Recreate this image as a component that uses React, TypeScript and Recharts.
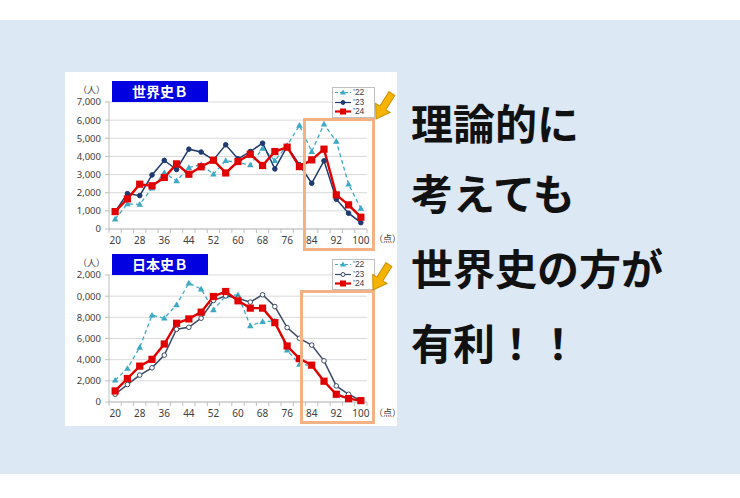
import React from "react";
import { LineChart, Line, XAxis, YAxis, CartesianGrid, Legend } from "recharts";

// 得点 (点) の区切り
const scores = [20, 24, 28, 32, 36, 40, 44, 48, 52, 56, 60, 64, 68, 72, 76, 80, 84, 88, 92, 96, 100];
const labelTicks = [20, 28, 36, 44, 52, 60, 68, 76, 84, 92, 100];
const boundaryTicks = [18, 22, 26, 30, 34, 38, 42, 46, 50, 54, 58, 62, 66, 70, 74, 78, 82, 86, 90, 94, 98, 102];

// 世界史B (人)
const world22 = [550, 1380, 1360, 2250, 3110, 2650, 3390, 3550, 3020, 3770, 3660, 3530, 4450, 3770, 4600, 5710, 4270, 5780, 4830, 2470, 1140];
const world23 = [960, 1950, 1840, 2980, 3780, 3280, 4400, 4240, 3810, 4640, 3870, 4270, 4730, 3310, 4550, 3540, 2520, 3760, 1640, 870, 350];
const world24 = [960, 1660, 2470, 2380, 2840, 3590, 3020, 3430, 3790, 3090, 3720, 4120, 3500, 4270, 4510, 3440, 3810, 4400, 1880, 1330, 650];
const worldTicks = [0, 1000, 2000, 3000, 4000, 5000, 6000, 7000];

// 日本史B (人)
const japan22 = [2060, 3170, 5160, 8200, 7920, 9180, 11240, 10670, 8710, 10030, 10130, 7190, 7600, 7650, 4910, 3550, 3450, 1950, 750, 300, 120];
const japan23 = [730, 1650, 2540, 3230, 4430, 6870, 7060, 7920, 9590, 10030, 9810, 9440, 10130, 9020, 7030, 6020, 5380, 3890, 1520, 730, 130];
const japan24 = [1045, 2220, 3390, 4030, 5480, 7440, 7850, 8490, 9970, 10440, 9560, 8870, 8870, 7500, 5290, 4100, 3480, 1965, 730, 320, 130];
const japanTicks = [0, 2000, 4000, 6000, 8000, 10000, 12000];

const messageLines = ["理論的に", "考えても", "世界史の方が", "有利！！"];

const TEAL = "#3fa9c4";
const RED = "#e00000";
const GRID = "#d9d9d9";
const AXIS = "#bfbfbf";
const FONT = '"Noto Sans CJK JP", "Noto Sans", sans-serif';
const NUM_FONT = '"Noto Sans", sans-serif';

const worldData = scores.map((s, i) => ({ x: s, y22: world22[i], y23: world23[i], y24: world24[i] }));
const japanData = scores.map((s, i) => ({ x: s, y22: japan22[i], y23: japan23[i], y24: japan24[i] }));

const triDot = (p: any) => {
  const { cx, cy, index } = p;
  return <path key={`t${index}`} d={`M${cx},${cy - 3.3}L${cx + 3.3},${cy + 2.4}L${cx - 3.3},${cy + 2.4}Z`} fill={TEAL} />;
};
const circleDot = (color: string, hollow: boolean) => (p: any) => {
  const { cx, cy, index } = p;
  return <circle key={`c${index}`} cx={cx} cy={cy} r={2.3} fill={hollow ? "#fff" : color} stroke={color} strokeWidth={1} />;
};
const squareDot = (p: any) => {
  const { cx, cy, index } = p;
  return <rect key={`s${index}`} x={cx - 3.6} y={cy - 3.6} width={7.2} height={7.2} fill={RED} />;
};

function ScoreTick({ x, y, payload }: any) {
  const v = payload.value;
  return (
    <g>
      {boundaryTicks.includes(v) && <line x1={x} x2={x} y1={y} y2={y + 4} stroke={AXIS} />}
      {labelTicks.includes(v) && (
        <text x={x} y={y + 11} textAnchor="middle" dominantBaseline="central" fontSize={10} fill="#404040" fontFamily={NUM_FONT}>
          {v}
        </text>
      )}
    </g>
  );
}

function LegendBox({ navy, hollow }: { navy: string; hollow: boolean }) {
  const rows = [
    { name: "’22", color: TEAL, dash: "3 2", mark: "tri" },
    { name: "’23", color: navy, dash: undefined, mark: "circle" },
    { name: "’24", color: RED, dash: undefined, mark: "square" },
  ];
  return (
    <div style={{ width: 38, border: `1px solid ${AXIS}`, background: "#fff", padding: "0 2px 0 1px", fontFamily: '"Liberation Sans", Arial, sans-serif', fontSize: 8.5, color: "#404040" }}>
      {rows.map((r) => (
        <div key={r.name} style={{ display: "flex", alignItems: "center", height: 9.6, lineHeight: "9.6px" }}>
          <svg width={18} height={9} style={{ flex: "none" }}>
            <line x1={1} x2={17} y1={4.5} y2={4.5} stroke={r.color} strokeWidth={r.mark === "square" ? 2.2 : 1.2} strokeDasharray={r.dash} />
            {r.mark === "tri" && <path d="M9,1.5L12,6.5L6,6.5Z" fill={r.color} />}
            {r.mark === "circle" && <circle cx={9} cy={4.5} r={2} fill={hollow ? "#fff" : r.color} stroke={r.color} />}
            {r.mark === "square" && <rect x={6} y={1.5} width={6} height={6} fill={r.color} />}
          </svg>
          <span style={{ marginLeft: 1 }}>{r.name}</span>
        </div>
      ))}
    </div>
  );
}

interface PanelProps {
  data: any[];
  top: number;
  height: number;
  marginTop: number;
  yMax: number;
  yTicks: number[];
  navy: string;
  hollow: boolean;
  legendTop: number;
  formatY: (v: number) => string;
}

function ScoreChart({ data, top, height, marginTop, yMax, yTicks, navy, hollow, legendTop, formatY }: PanelProps) {
  return (
    <div style={{ position: "absolute", left: 65, top }}>
      <LineChart width={332} height={height} data={data} margin={{ top: marginTop, right: 30, bottom: 4, left: 4 }}>
        <CartesianGrid vertical={false} stroke={GRID} />
        <XAxis
          dataKey="x"
          type="number"
          domain={[18, 102]}
          ticks={[...boundaryTicks, ...labelTicks].sort((a, b) => a - b)}
          interval={0}
          tick={<ScoreTick />}
          tickLine={false}
          tickSize={0}
          tickMargin={0}
          height={14}
          axisLine={{ stroke: AXIS }}
        />
        <YAxis
          domain={[0, yMax]}
          ticks={yTicks}
          width={40}
          interval={0}
          tickSize={4}
          tickMargin={4}
          tickFormatter={formatY}
          tick={{ fontSize: 9.5, fill: "#404040", fontFamily: NUM_FONT }}
          tickLine={{ stroke: AXIS }}
          axisLine={{ stroke: AXIS }}
        />
        <Legend
          layout="vertical"
          align="center"
          verticalAlign="middle"
          wrapperStyle={{ left: 267, top: legendTop, width: "auto" }}
          content={() => <LegendBox navy={navy} hollow={hollow} />}
        />
        <Line dataKey="y22" stroke={TEAL} strokeWidth={1.3} strokeDasharray="4 3" dot={triDot} isAnimationActive={false} />
        <Line dataKey="y23" stroke={navy} strokeWidth={1.5} dot={circleDot(navy, hollow)} isAnimationActive={false} />
        <Line dataKey="y24" stroke={RED} strokeWidth={2.4} dot={squareDot} isAnimationActive={false} />
      </LineChart>
    </div>
  );
}

function Arrow({ tipX, tipY }: { tipX: number; tipY: number }) {
  return (
    <svg style={{ position: "absolute", left: 0, top: 0, overflow: "visible" }} width={1} height={1}>
      <g transform={`translate(${tipX},${tipY}) rotate(32) translate(0,-30)`}>
        <polygon points="-3.5,0 3.5,0 3.5,17 8.5,17 0,30 -8.5,17 -3.5,17" fill="#f6b400" stroke="#c98f00" strokeWidth={1} />
      </g>
    </svg>
  );
}

const absText = (left: number, top: number, size: number, extra: React.CSSProperties = {}): React.CSSProperties => ({
  position: "absolute",
  left,
  top,
  fontSize: size,
  fontFamily: FONT,
  color: "#404040",
  whiteSpace: "nowrap",
  lineHeight: 1,
  ...extra,
});

export default function App() {
  const plain = (v: number) => v.toLocaleString("en-US");
  const clipped = (v: number) => v.toLocaleString("en-US").slice(-5);
  return (
    <div style={{ position: "absolute", left: 0, top: 0, width: 740, height: 498, background: "#fff", overflow: "hidden" }}>
      <div style={{ position: "absolute", left: 0, top: 20, width: 740, height: 454, background: "#dce8f4" }} />
      <div style={{ position: "absolute", left: 65, top: 72, width: 332, height: 354, background: "#fff" }} />

      <ScoreChart data={worldData} top={72} height={175} marginTop={30} yMax={7000} yTicks={worldTicks} navy="#1f3a6e" hollow={false} legendTop={15} formatY={plain} />
      <ScoreChart data={japanData} top={250} height={170} marginTop={25} yMax={12000} yTicks={japanTicks} navy="#3c4a66" hollow={true} legendTop={9} formatY={clipped} />

      <div style={{ position: "absolute", left: 112, top: 81, width: 96, height: 21, background: "#0000e0", color: "#fff", fontFamily: FONT, fontWeight: 700, fontSize: 14, lineHeight: "21px", textAlign: "center" }}>
        世界史Ｂ
      </div>
      <div style={{ position: "absolute", left: 112, top: 254, width: 96, height: 21, background: "#0000e0", color: "#fff", fontFamily: FONT, fontWeight: 700, fontSize: 14, lineHeight: "21px", textAlign: "center" }}>
        日本史Ｂ
      </div>

      <div style={absText(78, 85, 9)}>（人）</div>
      <div style={absText(78, 258, 9)}>（人）</div>
      <div style={absText(374, 234, 9)}>（点）</div>
      <div style={absText(374, 408, 9)}>（点）</div>

      <div style={{ position: "absolute", left: 303, top: 118, width: 72, height: 133, border: "3.5px solid #f4b183", boxSizing: "border-box" }} />
      <div style={{ position: "absolute", left: 300, top: 290, width: 75, height: 134, border: "3.5px solid #f4b183", boxSizing: "border-box" }} />

      <Arrow tipX={376} tipY={119} />
      <Arrow tipX={373} tipY={290} />

      {messageLines.map((t, i) => (
        <div key={t} style={absText(411, [122, 192, 267, 342][i] - 25, 42, { lineHeight: "50px", fontWeight: 700, color: "#111" })}>
          {t}
        </div>
      ))}
    </div>
  );
}
